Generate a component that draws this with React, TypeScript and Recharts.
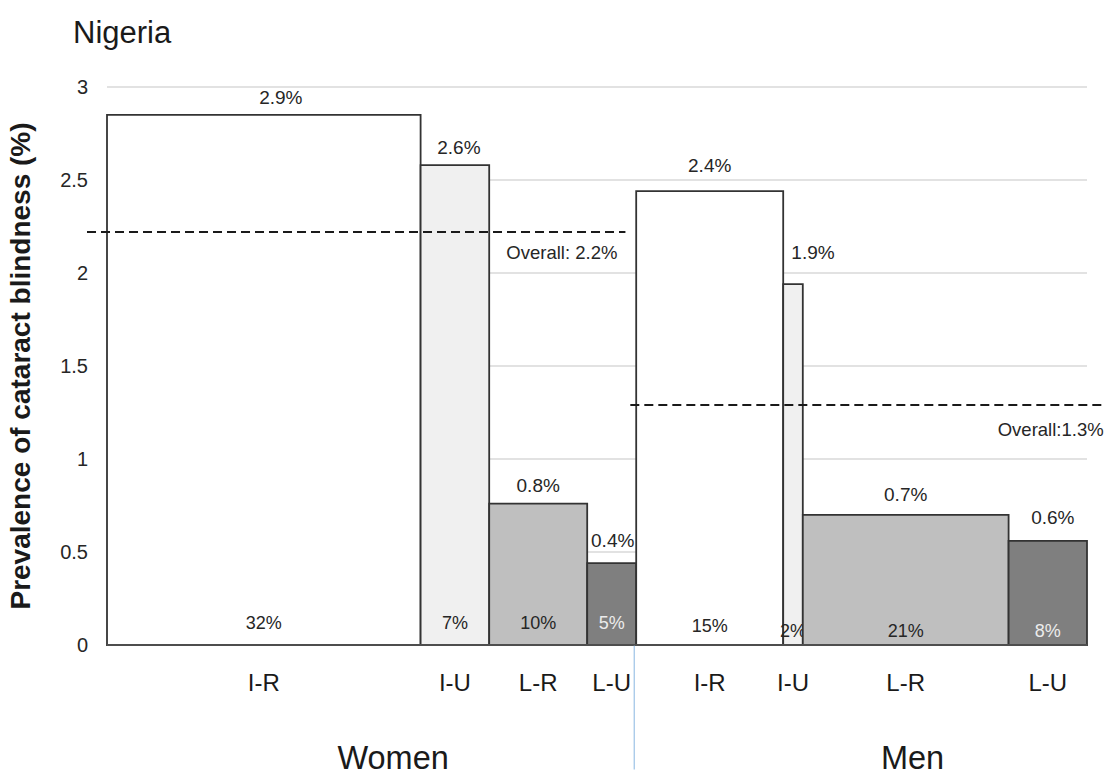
import React from 'react';
import {
  ComposedChart,
  XAxis,
  YAxis,
  CartesianGrid,
  ReferenceArea,
  ReferenceLine,
  Label,
  Line,
} from 'recharts';

// ---------- data ----------
const CATEGORIES = ['I-R', 'I-U', 'L-R', 'L-U'];
const GROUPS = ['Women', 'Men'];
const WOMEN_PREVALENCE = [2.85, 2.58, 0.76, 0.44];
const MEN_PREVALENCE = [2.44, 1.94, 0.7, 0.56];
const WOMEN_PREVALENCE_LABELS = ['2.9%', '2.6%', '0.8%', '0.4%'];
const MEN_PREVALENCE_LABELS = ['2.4%', '1.9%', '0.7%', '0.6%'];
const WOMEN_SHARE = [32, 7, 10, 5];
const MEN_SHARE = [15, 2, 21, 8];
const OVERALL = [2.22, 1.29];
const OVERALL_LABELS = ['Overall: 2.2%', 'Overall:1.3%'];
const Y_TICKS = [0, 0.5, 1, 1.5, 2, 2.5, 3];

// ---------- layout / style constants ----------
const FONT = '"Liberation Sans", Arial, Helvetica, sans-serif';
const FILLS = ['#ffffff', '#f0f0f0', '#bfbfbf', '#7f7f7f'];
const SHARE_TEXT = ['#262626', '#262626', '#262626', '#ececec'];
const TOP_LIFT = [11, 11, 12, 16, 19, 25, 14, 17];
const TOP_SHIFT = [17, 4, 0, 1, 0, 20, 0, 5];
const BOTTOM_LIFT = [16, 16, 16, 16, 13, 8, 8, 8];
const OVERALL_SPAN = [
  [-2.04, 52.9],
  [53.4, 101.8],
];
const OVERALL_TEXT_POS = [
  { dx: -8, dy: 27 },
  { dx: -1, dy: 31 },
];
const DIVIDER_X = 53.8;
const GROUP_LABEL_AT = [29.2, 82.2];

type Seg = {
  group: string;
  cat: string;
  value: number;
  valueLabel: string;
  share: number;
  x0: number;
  x1: number;
  center: number;
  idx: number;
  catIdx: number;
};

const buildSegments = (): Seg[] => {
  const out: Seg[] = [];
  let acc = 0;
  const groupsData = [
    { vals: WOMEN_PREVALENCE, labels: WOMEN_PREVALENCE_LABELS, shares: WOMEN_SHARE },
    { vals: MEN_PREVALENCE, labels: MEN_PREVALENCE_LABELS, shares: MEN_SHARE },
  ];
  groupsData.forEach((g, gi) => {
    CATEGORIES.forEach((cat, ci) => {
      const share = g.shares[ci];
      out.push({
        group: GROUPS[gi],
        cat,
        value: g.vals[ci],
        valueLabel: g.labels[ci],
        share,
        x0: acc,
        x1: acc + share,
        center: acc + share / 2,
        idx: out.length,
        catIdx: ci,
      });
      acc += share;
    });
  });
  return out;
};

const SEGMENTS = buildSegments();
const CAT_TICKS = SEGMENTS.map((s) => s.center);

const topLabel = (text: string, lift: number, shift: number) => (props: any) => {
  const vb = props.viewBox || {};
  return (
    <text
      x={vb.x + vb.width / 2 + shift}
      y={vb.y - lift}
      textAnchor="middle"
      fontSize={19}
      fontFamily={FONT}
      fill="#262626"
    >
      {text}
    </text>
  );
};

const bottomLabel = (text: string, lift: number, color: string) => (props: any) => {
  const vb = props.viewBox || {};
  return (
    <text
      x={vb.x + vb.width / 2}
      y={vb.y + vb.height - lift}
      textAnchor="middle"
      fontSize={18}
      fontFamily={FONT}
      fill={color}
    >
      {text}
    </text>
  );
};

const overallLabel = (text: string, dx: number, dy: number) => (props: any) => {
  const vb = props.viewBox || {};
  return (
    <text
      x={vb.x + vb.width + dx}
      y={vb.y + dy}
      textAnchor="end"
      fontSize={18.5}
      fontFamily={FONT}
      fill="#262626"
    >
      {text}
    </text>
  );
};

const yAxisTitle = (props: any) => {
  const vb = props.viewBox || {};
  const cx = 30;
  const cy = vb.y + vb.height / 2;
  return (
    <text
      x={cx}
      y={cy}
      transform={`rotate(-90, ${cx}, ${cy})`}
      textAnchor="middle"
      fontSize={28}
      fontWeight="bold"
      fontFamily={FONT}
      fill="#1a1a1a"
    >
      Prevalence of cataract blindness (%)
    </text>
  );
};

export default function App() {
  return (
    <div style={{ position: 'absolute', left: 0, top: 0, width: 1112, height: 776, background: '#fff' }}>
      <div
        style={{
          position: 'absolute',
          left: 73,
          top: 17,
          fontFamily: FONT,
          fontSize: 31,
          lineHeight: '31px',
          color: '#1a1a1a',
          whiteSpace: 'nowrap',
        }}
      >
        Nigeria
      </div>
      <ComposedChart
        width={1112}
        height={776}
        data={SEGMENTS}
        margin={{ top: 87, right: 25, left: 0, bottom: 0 }}
        style={{ fontFamily: FONT }}
      >
        <CartesianGrid horizontal vertical={false} stroke="#d9d9d9" strokeWidth={1.5} />
        <XAxis
          dataKey="center"
          type="number"
          domain={[0, 100]}
          allowDataOverflow
          ticks={CAT_TICKS}
          interval={0}
          tickFormatter={(_v: number, i: number) => (SEGMENTS[i] ? SEGMENTS[i].cat : '')}
          tickLine={false}
          tickSize={0}
          tickMargin={29}
          height={70}
          axisLine={{ stroke: '#595959', strokeWidth: 1.5 }}
          tick={{ fontSize: 24, fill: '#1a1a1a', fontFamily: FONT }}
        />
        <XAxis
          xAxisId="grp"
          dataKey="center"
          type="number"
          domain={[0, 100]}
          allowDataOverflow
          ticks={GROUP_LABEL_AT}
          interval={0}
          tickFormatter={(_v: number, i: number) => GROUPS[i] || ''}
          tickLine={false}
          axisLine={false}
          tickSize={0}
          tickMargin={31}
          height={61}
          tick={{ fontSize: 32.5, fill: '#1a1a1a', fontFamily: FONT }}
        />
        <YAxis
          dataKey="value"
          type="number"
          domain={[0, 3]}
          allowDataOverflow
          ticks={Y_TICKS}
          interval={0}
          width={107}
          axisLine={false}
          tickLine={false}
          tickSize={0}
          tickMargin={19}
          tick={{ fontSize: 20, fill: '#262626', fontFamily: FONT }}
          label={{ content: yAxisTitle }}
        />
        <Line
          dataKey="value"
          stroke="none"
          dot={false}
          activeDot={false}
          legendType="none"
          isAnimationActive={false}
        />
        {SEGMENTS.map((s) => (
          <ReferenceArea
            key={`bar-${s.idx}`}
            x1={s.x0}
            x2={s.x1}
            y1={0}
            y2={s.value}
            fill={FILLS[s.catIdx]}
            fillOpacity={1}
            stroke="#333333"
            strokeWidth={1.8}
            ifOverflow="visible"
          >
            <Label content={topLabel(s.valueLabel, TOP_LIFT[s.idx], TOP_SHIFT[s.idx])} />
            <Label content={bottomLabel(`${s.share}%`, BOTTOM_LIFT[s.idx], SHARE_TEXT[s.catIdx])} />
          </ReferenceArea>
        ))}
        {OVERALL.map((v, i) => (
          <ReferenceLine
            key={`overall-${i}`}
            segment={[
              { x: OVERALL_SPAN[i][0], y: v },
              { x: OVERALL_SPAN[i][1], y: v },
            ]}
            stroke="#1a1a1a"
            strokeWidth={2}
            strokeDasharray="9 5"
            ifOverflow="visible"
          >
            <Label content={overallLabel(OVERALL_LABELS[i], OVERALL_TEXT_POS[i].dx, OVERALL_TEXT_POS[i].dy)} />
          </ReferenceLine>
        ))}
        <ReferenceLine
          segment={[
            { x: DIVIDER_X, y: 0 },
            { x: DIVIDER_X, y: -0.67 },
          ]}
          stroke="#9dc3e6"
          strokeWidth={1.2}
          ifOverflow="visible"
        />
      </ComposedChart>
    </div>
  );
}
